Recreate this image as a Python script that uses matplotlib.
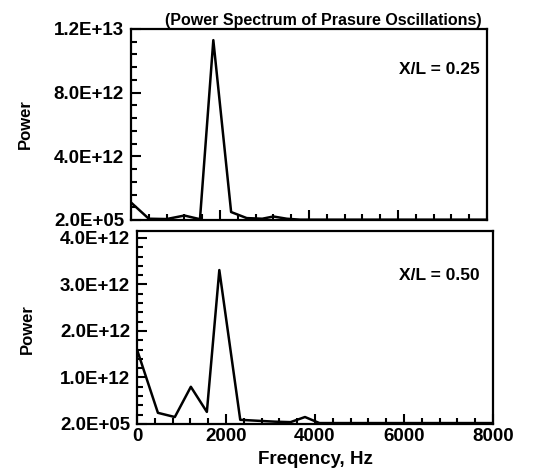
import matplotlib
matplotlib.use("Agg")
import matplotlib.pyplot as plt
from matplotlib.ticker import MultipleLocator, FixedLocator

plt.rcParams['font.family'] = ['Liberation Sans', 'DejaVu Sans']
plt.rcParams['font.weight'] = 'bold'

# X/L = 0.25 spectrum
freq_025 = [0, 400, 800, 1200, 1550, 1850, 2250, 2600, 2950, 3200, 3500, 3800, 8000]
power_025 = [1.1e12, 0.08e12, 0.06e12, 0.28e12, 0.05e12, 1.13e13, 0.5e12, 0.12e12,
             0.08e12, 0.22e12, 0.08e12, 0.02e12, 0.02e12]

# X/L = 0.50 spectrum
freq_050 = [0, 470, 850, 1210, 1570, 1850, 2320, 2700, 3100, 3450, 3775, 4100, 8000]
power_050 = [1.6e12, 0.24e12, 0.15e12, 0.8e12, 0.26e12, 3.31e12, 0.09e12, 0.07e12,
             0.05e12, 0.04e12, 0.15e12, 0.02e12, 0.02e12]

top_ticks = [2e5, 4e12, 8e12, 1.2e13]
top_labels = ['2.0E+05', '4.0E+12', '8.0E+12', '1.2E+13']
bot_ticks = [2e5, 1e12, 2e12, 3e12, 4e12]
bot_labels = ['2.0E+05', '1.0E+12', '2.0E+12', '3.0E+12', '4.0E+12']
x_ticks = [0, 2000, 4000, 6000, 8000]

fig = plt.figure(figsize=(5.36, 4.73), dpi=100)
ax1 = fig.add_axes([131/536, 1-220/473, 356/536, 191/473])
ax2 = fig.add_axes([137/536, 1-424/473, 356/536, 193/473])


def style(ax):
	for s in ax.spines.values():
		s.set_linewidth(1.6)
	ax.xaxis.set_minor_locator(MultipleLocator(400))
	ax.tick_params(which='major', direction='in', length=7, width=1.5, labelsize=13.5)
	ax.tick_params(which='minor', direction='in', length=4, width=1.5)
	ax.tick_params(axis='y', which='major', pad=5)
	ax.tick_params(axis='x', which='major', pad=3)
	ax.set_xlim(0, 8000)


ax1.plot(freq_025, power_025, color='black', lw=1.8)
style(ax1)
ax1.set_ylim(0, 1.2e13)
ax1.yaxis.set_major_locator(FixedLocator(top_ticks))
ax1.set_yticklabels(top_labels)
ax1.yaxis.set_minor_locator(MultipleLocator(0.8e12))
ax1.set_xticks(x_ticks)
ax1.set_xticklabels([])
ax1.set_ylabel('Power', fontsize=12, fontweight='bold')
ax1.yaxis.set_label_coords(-0.275, 0.5)
ax1.text(0.865, 0.79, 'X/L = 0.25', transform=ax1.transAxes, ha='center', va='center',
		 fontsize=12.5, fontweight='bold')
ax1.set_title('(Power Spectrum of Prasure Oscillations)', fontsize=11.5, fontweight='bold',
			  x=0.54, pad=3)

ax2.plot(freq_050, power_050, color='black', lw=1.8)
style(ax2)
ax2.set_ylim(0, 4.15e12)
ax2.yaxis.set_major_locator(FixedLocator(bot_ticks))
ax2.set_yticklabels(bot_labels)
ax2.yaxis.set_minor_locator(MultipleLocator(0.2e12))
ax2.set_xticks(x_ticks)
ax2.set_xticklabels([str(t) for t in x_ticks])
ax2.set_ylabel('Power', fontsize=12, fontweight='bold')
ax2.yaxis.set_label_coords(-0.287, 0.49)
ax2.set_xlabel('Freqency, Hz', fontsize=13.5, fontweight='bold', labelpad=4)
ax2.text(0.85, 0.77, 'X/L = 0.50', transform=ax2.transAxes, ha='center', va='center',
		 fontsize=12.5, fontweight='bold')

fig.savefig('out.png', dpi=100)
